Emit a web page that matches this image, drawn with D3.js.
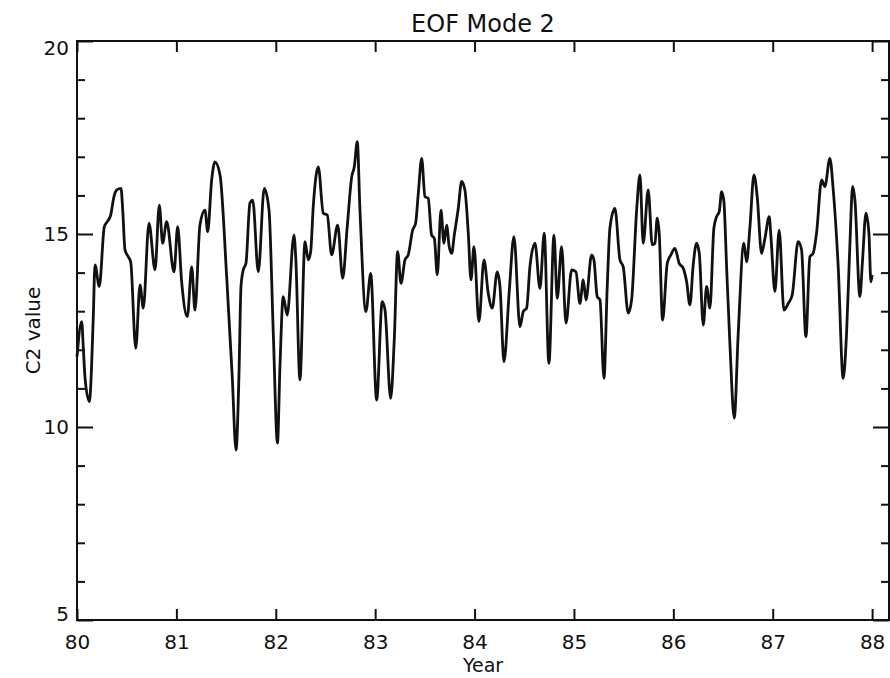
<!DOCTYPE html>
<html>
<head>
<meta charset="utf-8">
<script src="https://cdn.jsdelivr.net/npm/d3@7"></script>
<style>
  body { margin: 0; background: #fff; }
  svg { display: block; }
  text { font-family: "DejaVu Sans", sans-serif; fill: #111; }
</style>
</head>
<body>
<div id="chart"></div>
<script>
// EOF mode 2 time series
const years = [
  80.0, 80.047, 80.063, 80.08, 80.124, 80.164, 80.181, 80.224, 80.275, 80.305,
  80.339, 80.372, 80.399, 80.443, 80.46, 80.483, 80.516, 80.54, 80.591, 80.634,
  80.667, 80.724, 80.785, 80.828, 80.862, 80.902, 80.976, 81.013, 81.053, 81.11,
  81.154, 81.187, 81.237, 81.288, 81.315, 81.355, 81.388, 81.439, 81.506, 81.562,
  81.6, 81.63, 81.65, 81.673, 81.7, 81.74, 81.768, 81.824, 81.884, 81.932,
  81.975, 82.017, 82.042, 82.075, 82.115, 82.183, 82.202, 82.243, 82.294, 82.327,
  82.351, 82.377, 82.428, 82.478, 82.518, 82.562, 82.623, 82.673, 82.719, 82.764,
  82.79, 82.82, 82.847, 82.907, 82.955, 83.015, 83.071, 83.099, 83.156, 83.192,
  83.226, 83.26, 83.3, 83.333, 83.377, 83.407, 83.434, 83.468, 83.501, 83.534,
  83.568, 83.595, 83.625, 83.662, 83.692, 83.719, 83.745, 83.77, 83.796, 83.836,
  83.87, 83.903, 83.937, 83.964, 83.994, 84.044, 84.095, 84.138, 84.178, 84.228,
  84.256, 84.296, 84.349, 84.396, 84.457, 84.49, 84.524, 84.557, 84.608, 84.658,
  84.701, 84.748, 84.799, 84.832, 84.876, 84.92, 84.977, 85.02, 85.06, 85.094,
  85.121, 85.178, 85.201, 85.234, 85.262, 85.302, 85.335, 85.362, 85.412, 85.463,
  85.496, 85.546, 85.58, 85.631, 85.664, 85.697, 85.747, 85.788, 85.815, 85.838,
  85.858, 85.892, 85.939, 85.976, 86.016, 86.059, 86.1, 86.134, 86.167, 86.2,
  86.234, 86.261, 86.301, 86.335, 86.368, 86.408, 86.435, 86.462, 86.486, 86.509,
  86.536, 86.569, 86.613, 86.653, 86.71, 86.737, 86.771, 86.811, 86.844, 86.888,
  86.922, 86.965, 86.982, 87.022, 87.065, 87.113, 87.156, 87.196, 87.256, 87.29,
  87.334, 87.374, 87.407, 87.441, 87.492, 87.525, 87.575, 87.609, 87.659, 87.709,
  87.743, 87.777, 87.804, 87.827, 87.877, 87.904, 87.938, 87.968, 87.988, 88.0
]
const c2 = [
  11.82, 12.73, 12.08, 11.3, 10.66, 12.86, 14.2, 13.64, 15.19, 15.32,
  15.49, 15.97, 16.14, 16.18, 15.62, 14.59, 14.41, 14.28, 12.04, 13.68,
  13.08, 15.28, 14.07, 15.75, 14.76, 15.32, 14.02, 15.19, 13.76, 12.86,
  14.15, 13.03, 15.23, 15.62, 15.06, 16.4, 16.87, 16.53, 13.89, 11.3,
  9.4, 11.39, 13.64, 14.07, 14.24, 15.8, 15.88, 14.02, 16.18, 15.62,
  12.43, 9.58, 11.56, 13.38, 12.9, 14.97, 14.33, 11.22, 14.8, 14.33,
  14.54, 15.71, 16.74, 15.54, 15.49, 14.46, 15.23, 13.85, 15.19, 16.48,
  16.74, 17.39, 15.62, 12.99, 13.98, 10.7, 13.25, 13.03, 10.74, 12.25,
  14.54, 13.72, 14.33, 14.46, 15.1, 15.28, 16.05, 16.96, 15.97, 15.92,
  14.97, 14.89, 13.94, 15.62, 14.76, 15.23, 14.67, 14.5, 14.97, 15.66,
  16.36, 16.14, 15.02, 13.81, 14.67, 12.73, 14.33, 13.46, 13.08, 14.02,
  13.64, 11.69, 13.51, 14.93, 12.6, 12.99, 13.08, 14.15, 14.76, 13.59,
  15.02, 11.65, 14.97, 13.33, 14.67, 12.69, 14.07, 14.02, 13.2, 13.81,
  13.29, 14.46, 14.33, 13.38, 13.29, 11.26, 13.64, 15.15, 15.66, 14.33,
  14.15, 12.95, 13.29, 15.62, 16.53, 14.76, 16.14, 14.72, 14.76, 15.41,
  15.02, 12.77, 14.24, 14.46, 14.63, 14.24, 14.11, 13.76, 13.16, 14.2,
  14.76, 14.5, 12.64, 13.64, 13.08, 15.15, 15.45, 15.58, 16.1, 15.84,
  14.15, 12.17, 10.23, 12.43, 14.76, 14.28, 15.19, 16.53, 15.97, 14.5,
  14.89, 15.45, 14.93, 13.51, 15.1, 13.03, 13.2, 13.42, 14.8, 14.59,
  12.34, 14.41, 14.5, 15.02, 16.4, 16.23, 16.96, 16.14, 14.15, 11.26,
  12.43, 14.76, 16.23, 15.88, 13.38, 14.33, 15.54, 15.02, 13.76, 13.94
]
const yearTicks = [80, 81, 82, 83, 84, 85, 86, 87, 88]
const valueTicks = [5, 10, 15, 20]
const minorTicks = [6, 7, 8, 9, 11, 12, 13, 14, 16, 17, 18, 19]

const width = 890
const height = 678
const margin = { top: 41, right: 1, bottom: 58, left: 77 }

const svg = d3.select("#chart").append("svg")
  .attr("width", width)
  .attr("height", height)

const x = d3.scaleLinear().domain([80, 88.17]).range([margin.left, width - margin.right])
const y = d3.scaleLinear().domain([5, 20]).range([height - margin.bottom, margin.top])

const x0 = x.range()[0], x1 = x.range()[1]
const y0 = y.range()[0], y1 = y.range()[1]

// frame
svg.append("rect")
  .attr("x", x0).attr("y", y1)
  .attr("width", x1 - x0).attr("height", y0 - y1)
  .attr("fill", "none").attr("stroke", "#111").attr("stroke-width", 2)

function styleAxis(g) {
  g.select(".domain").remove()
  g.selectAll(".tick line").attr("stroke", "#111").attr("stroke-width", 2)
  g.selectAll(".tick text").attr("font-size", 20).attr("fill", "#111")
    .style("font-family", '"DejaVu Sans", sans-serif')
}

// x axes, ticks pointing inward
svg.append("g").attr("transform", `translate(0,${y0})`)
  .call(d3.axisBottom(x).tickValues(yearTicks).tickSize(-11).tickPadding(15).tickFormat(d3.format("d")))
  .call(styleAxis)
svg.append("g").attr("transform", `translate(0,${y1})`)
  .call(d3.axisTop(x).tickValues(yearTicks).tickSize(-11).tickFormat(""))
  .call(styleAxis)

// y axes
svg.append("g").attr("transform", `translate(${x0},0)`)
  .call(d3.axisLeft(y).tickValues(valueTicks).tickSize(-16).tickPadding(8).tickFormat(d3.format("d")))
  .call(styleAxis)
  .call(g => g.selectAll(".tick text")
    .attr("dy", d => d === 20 ? "0.67em" : d === 5 ? "0.0em" : "0.32em"))
svg.append("g").attr("transform", `translate(${x0},0)`)
  .call(d3.axisLeft(y).tickValues(minorTicks).tickSize(-8).tickFormat(""))
  .call(styleAxis)
svg.append("g").attr("transform", `translate(${x1},0)`)
  .call(d3.axisRight(y).tickValues(valueTicks).tickSize(-16).tickFormat(""))
  .call(styleAxis)
svg.append("g").attr("transform", `translate(${x1},0)`)
  .call(d3.axisRight(y).tickValues(minorTicks).tickSize(-8).tickFormat(""))
  .call(styleAxis)

// the series
const series = years.map((d, i) => ({ year: d, value: c2[i] }))
const line = d3.line()
  .x(d => x(d.year))
  .y(d => y(d.value))
  .curve(d3.curveMonotoneX)

svg.append("path")
  .datum(series)
  .attr("fill", "none")
  .attr("stroke", "#111")
  .attr("stroke-width", 2.8)
  .attr("stroke-linejoin", "round")
  .attr("d", line)

// labels
svg.append("text")
  .attr("x", (x0 + x1) / 2)
  .attr("y", 32)
  .attr("text-anchor", "middle")
  .attr("font-size", 24)
  .text("EOF Mode 2")

svg.append("text")
  .attr("x", (x0 + x1) / 2)
  .attr("y", 672)
  .attr("text-anchor", "middle")
  .attr("font-size", 19)
  .text("Year")

svg.append("text")
  .attr("transform", `translate(40,${(y0 + y1) / 2}) rotate(-90)`)
  .attr("text-anchor", "middle")
  .attr("font-size", 20)
  .text("C2 value")
</script>
</body>
</html>
